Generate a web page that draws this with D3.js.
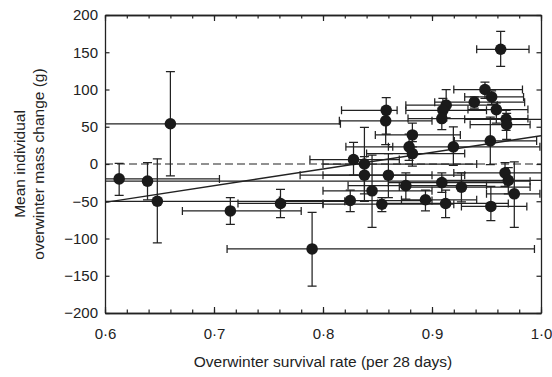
<!DOCTYPE html>
<html>
<head>
<meta charset="utf-8">
<script src="https://cdn.jsdelivr.net/npm/d3@7"></script>
<style>
  body { margin: 0; background: #fff; }
  text { font-family: "Liberation Sans", Arial, sans-serif; fill: #222; }
</style>
</head>
<body>
<div id="chart"></div>
<script>
// survival rate (x) and mass change (y) per site, with error ranges
var xs   = [0.613, 0.639, 0.648, 0.660, 0.715, 0.761, 0.790, 0.828, 0.838, 0.838, 0.860, 0.845, 0.876, 0.825, 0.854, 0.894, 0.909, 0.9125, 0.927, 0.954, 0.967, 0.970, 0.9755, 0.882, 0.963, 0.9486, 0.9547, 0.9388, 0.959, 0.913, 0.910, 0.909, 0.858, 0.8575, 0.968, 0.9685, 0.882, 0.879, 0.9196, 0.9535];
var ys   = [-20, -23, -50, 54, -63, -53, -114, 6, 0, -15, -15, -36, -29, -49, -54, -48, -25, -53, -31, -57, -12, -22, -40, 14, 154, 100, 90, 83, 73, 79, 72, 61, 72, 58, 60, 53, 39, 23, 23, 31];
var xLo  = [0.57, 0.57, 0.57, 0.57, 0.671, 0.722, 0.712, 0.788, 0.80, 0.779, 0.80, 0.80, 0.823, 0.76, 0.80, 0.872, 0.86, 0.85, 0.87, 0.927, 0.92, 0.91, 0.95, 0.84, 0.941, 0.920, 0.930, 0.9025, 0.933, 0.876, 0.876, 0.878, 0.817, 0.815, 0.93, 0.935, 0.848, 0.821, 0.86, 0.9205];
var xHi  = [0.705, 0.99, 0.82, 0.816, 0.780, 0.80, 0.994, 0.87, 0.941, 0.90, 0.93, 0.90, 0.95, 0.90, 0.92, 0.941, 0.97, 0.97, 0.99, 0.987, 1.01, 1.01, 0.999, 0.93, 0.989, 0.983, 0.984, 0.985, 0.988, 0.96, 0.95, 0.988, 0.868, 0.90, 1.01, 0.99, 0.926, 0.864, 0.999, 0.996];
var yLo  = [-42, -48, -106, -16, -81, -72, -164, -15, -50, -40, -45, -85, -47, -64, -64, -63, -38, -72, -51, -76, -30, -40, -85, -3, 131, 88, 80, 75, 55, 62, 58, 46, 40, 26, 45, 33, 23, 5, -2, -1];
var yHi  = [1, 2, 7, 124, -45, -34, -65, 29, 49, 10, 14, 12, -12, -35, -45, -35, -12, -35, -12, -30, 2, -5, 3, 30, 178, 110, 98, 90, 82, 100, 88, 75, 89, 75, 72, 68, 55, 40, 50, 63];

// fitted regression line end points
var fitX = [0.6, 1.0];
var fitY = [-51.5, 38];

var xTicks = [0.6, 0.7, 0.8, 0.9, 1.0];
var yTicks = [-200, -150, -100, -50, 0, 50, 100, 150, 200];

var width = 552, height = 377;
var plotL = 105, plotR = 541, plotT = 15, plotB = 313;
var ink = "#222";

var svg = d3.select("#chart").append("svg")
    .attr("width", width)
    .attr("height", height);

var x = d3.scaleLinear().domain([0.6, 1.0]).range([plotL, plotR]);
var y = d3.scaleLinear().domain([-200, 200]).range([plotB, plotT]);

svg.append("clipPath").attr("id", "plot")
  .append("rect")
    .attr("x", plotL).attr("y", plotT)
    .attr("width", plotR - plotL).attr("height", plotB - plotT);

var g = svg.append("g").attr("clip-path", "url(#plot)");

var data = xs.map(function (d, i) {
    return { x: d, y: ys[i], xlo: xLo[i], xhi: xHi[i], ylo: yLo[i], yhi: yHi[i] };
});

// zero reference line
g.append("line")
    .attr("x1", x(0.6)).attr("x2", x(1.0))
    .attr("y1", y(0)).attr("y2", y(0))
    .attr("stroke", ink).attr("stroke-width", 1.2)
    .attr("stroke-dasharray", "8,4");

// regression
g.append("line")
    .attr("x1", x(fitX[0])).attr("x2", x(fitX[1]))
    .attr("y1", y(fitY[0])).attr("y2", y(fitY[1]))
    .attr("stroke", ink).attr("stroke-width", 1.4);

var bars = g.selectAll(".err").data(data).enter().append("g").attr("class", "err")
    .attr("stroke", ink).attr("stroke-width", 1.25).attr("fill", "none");

// horizontal error bars
bars.append("line")
    .attr("x1", function (d) { return x(d.xlo); })
    .attr("x2", function (d) { return x(d.xhi); })
    .attr("y1", function (d) { return y(d.y); })
    .attr("y2", function (d) { return y(d.y); });
bars.append("path")
    .attr("d", function (d) {
        var cy = y(d.y);
        return "M" + x(d.xlo) + "," + (cy - 4) + "V" + (cy + 4) +
               "M" + x(d.xhi) + "," + (cy - 4) + "V" + (cy + 4);
    });

// vertical error bars
bars.append("line")
    .attr("x1", function (d) { return x(d.x); })
    .attr("x2", function (d) { return x(d.x); })
    .attr("y1", function (d) { return y(d.ylo); })
    .attr("y2", function (d) { return y(d.yhi); });
bars.append("path")
    .attr("d", function (d) {
        var cx = x(d.x);
        return "M" + (cx - 4.5) + "," + y(d.ylo) + "H" + (cx + 4.5) +
               "M" + (cx - 4.5) + "," + y(d.yhi) + "H" + (cx + 4.5);
    });

g.selectAll(".dot").data(data).enter().append("circle")
    .attr("class", "dot")
    .attr("cx", function (d) { return x(d.x); })
    .attr("cy", function (d) { return y(d.y); })
    .attr("r", 5.8)
    .attr("fill", "#1a1a1a");

// axes, ticks pointing inward
var fmtX = function (d) { return d3.format(".1f")(d).replace(".", "\u00b7"); };
var minorX = d3.range(0.6, 1.0001, 0.02);

function styleAxis(sel) {
    sel.selectAll("path").attr("stroke", ink).attr("stroke-width", 1.3);
    sel.selectAll("line").attr("stroke", ink).attr("stroke-width", 1.2);
    sel.selectAll("text").attr("font-size", 15).attr("fill", ink)
        .attr("font-family", "Liberation Sans, Arial, sans-serif");
}

svg.append("g").attr("transform", "translate(0," + plotB + ")")
    .call(d3.axisBottom(x).tickValues(minorX).tickSize(-3.5).tickFormat("").tickSizeOuter(0))
    .call(styleAxis);
svg.append("g").attr("transform", "translate(0," + plotB + ")")
    .call(d3.axisBottom(x).tickValues(xTicks).tickSize(-6).tickPadding(15).tickFormat(fmtX).tickSizeOuter(0))
    .call(styleAxis);
svg.append("g").attr("transform", "translate(0," + plotT + ")")
    .call(d3.axisTop(x).tickValues(minorX).tickSize(-3.5).tickFormat("").tickSizeOuter(0))
    .call(styleAxis);
svg.append("g").attr("transform", "translate(0," + plotT + ")")
    .call(d3.axisTop(x).tickValues(xTicks).tickSize(-6).tickFormat("").tickSizeOuter(0))
    .call(styleAxis);
svg.append("g").attr("transform", "translate(" + plotL + ",0)")
    .call(d3.axisLeft(y).tickValues(yTicks).tickSize(-4.5).tickPadding(7).tickSizeOuter(0))
    .call(styleAxis);
svg.append("g").attr("transform", "translate(" + plotR + ",0)")
    .call(d3.axisRight(y).tickValues(yTicks).tickSize(-4.5).tickFormat("").tickSizeOuter(0))
    .call(styleAxis);

svg.append("text")
    .attr("x", (plotL + plotR) / 2).attr("y", 367)
    .attr("text-anchor", "middle").attr("font-size", 15.5)
    .text("Overwinter survival rate (per 28 days)");

var midY = (plotT + plotB) / 2;
svg.append("text")
    .attr("transform", "translate(25," + midY + ") rotate(-90)")
    .attr("text-anchor", "middle").attr("font-size", 15.5)
    .text("Mean individual");
svg.append("text")
    .attr("transform", "translate(44," + midY + ") rotate(-90)")
    .attr("text-anchor", "middle").attr("font-size", 15.5)
    .text("overwinter mass change (g)");
</script>
</body>
</html>
